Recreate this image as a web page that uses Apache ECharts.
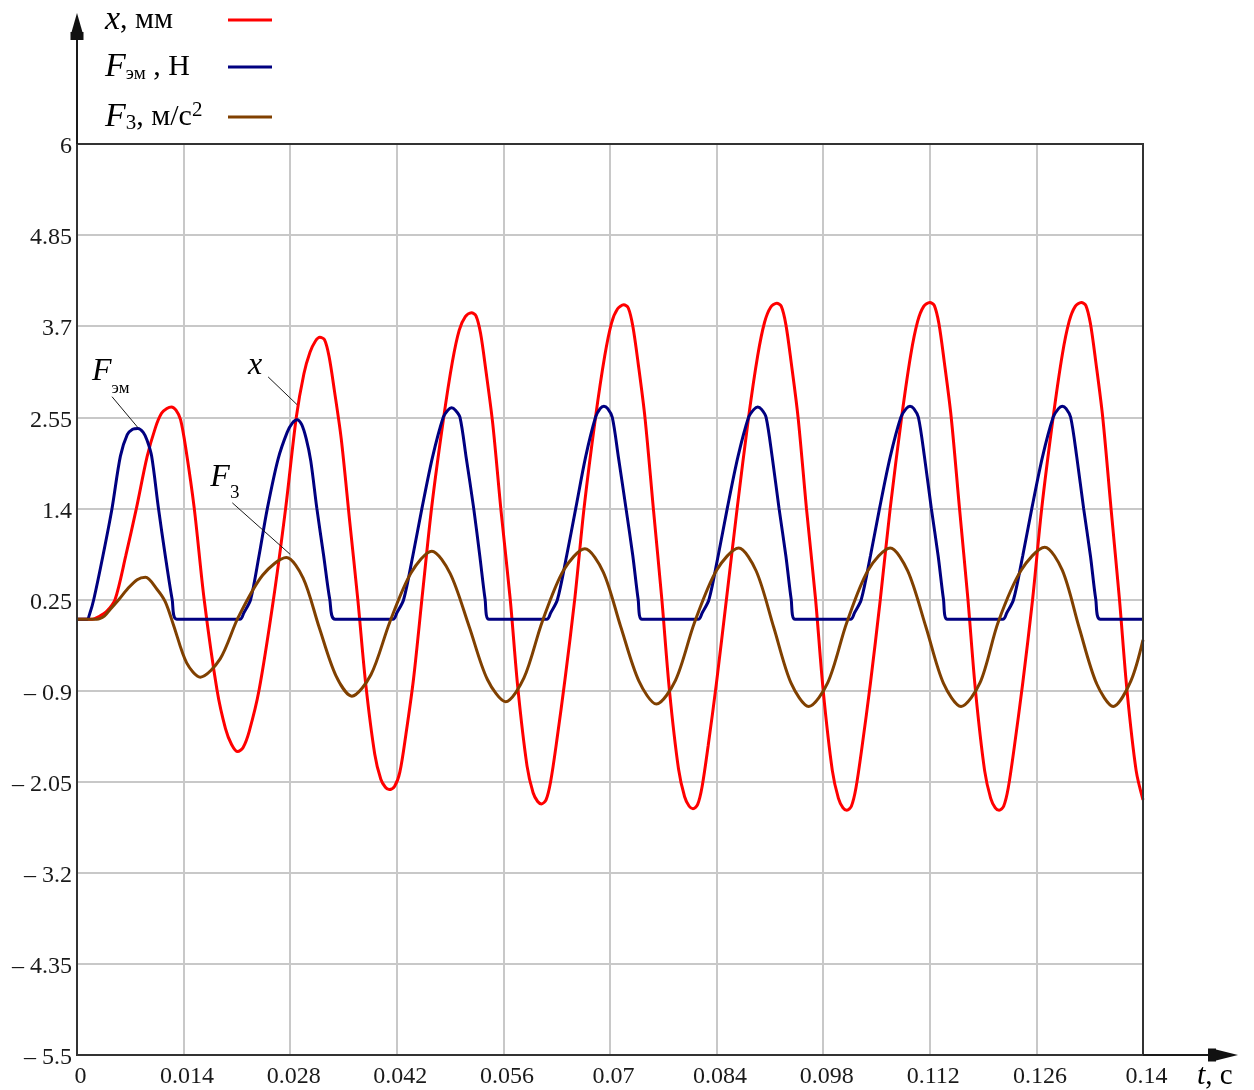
<!DOCTYPE html>
<html>
<head>
<meta charset="utf-8">
<script src="https://cdn.jsdelivr.net/npm/echarts@6/dist/echarts.min.js"></script>
<style>
  html, body { margin: 0; padding: 0; background: #ffffff; }
  #chart { width: 1254px; height: 1090px; }
</style>
</head>
<body>
<div id="chart"></div>
<script>
// Axis ticks
const xTickLabels = ['0', '0.014', '0.028', '0.042', '0.056', '0.07', '0.084', '0.098', '0.112', '0.126', '0.14'];
const yTickValues = [-5.5, -4.35, -3.2, -2.05, -0.9, 0.25, 1.4, 2.55, 3.7, 4.85, 6];
const yTickLabels = ['\u2013 5.5', '\u2013 4.35', '\u2013 3.2', '\u2013 2.05', '\u2013 0.9', '0.25', '1.4', '2.55', '3.7', '4.85', '6'];

// Displacement x, mm — [t (s), value]
const displacement = [
  [0, 0], [0.0020, 0], [0.0028, 0.03], [0.0039, 0.1], [0.0050, 0.25], [0.0064, 0.8], [0.0078, 1.4],
  [0.0092, 2.05], [0.0103, 2.42], [0.0111, 2.6], [0.0118, 2.66], [0.0124, 2.68],
  [0.0130, 2.64], [0.0136, 2.52], [0.0143, 2.15], [0.0154, 1.4], [0.0167, 0.25], [0.0184, -0.9],
  [0.0195, -1.38], [0.0203, -1.58], [0.0211, -1.67],
  [0.0218, -1.62], [0.0226, -1.42], [0.0239, -0.9], [0.0258, 0.25], [0.0274, 1.4], [0.0288, 2.55],
  [0.0298, 3.1], [0.0306, 3.37], [0.0313, 3.51], [0.0319, 3.56],
  [0.0325, 3.53], [0.0331, 3.32], [0.0338, 2.89], [0.0347, 2.28], [0.0358, 1.25], [0.0369, 0.23],
  [0.0379, -0.80], [0.0391, -1.70], [0.0399, -2.02], [0.0405, -2.12], [0.0410, -2.15],
  [0.0417, -2.11], [0.0424, -1.93], [0.0432, -1.45], [0.0442, -0.75], [0.0454, 0.35], [0.0466, 1.43],
  [0.0481, 2.51], [0.0493, 3.25], [0.0502, 3.65], [0.0510, 3.82], [0.0518, 3.87],
  [0.0524, 3.83], [0.0530, 3.61], [0.0537, 3.14], [0.0546, 2.47], [0.0557, 1.36], [0.0569, 0.25],
  [0.0579, -0.87], [0.0591, -1.85], [0.0599, -2.19], [0.0605, -2.30], [0.0610, -2.33],
  [0.0616, -2.28], [0.0622, -2.05], [0.0630, -1.54], [0.0641, -0.75], [0.0654, 0.28], [0.0666, 1.41],
  [0.0681, 2.55], [0.0693, 3.32], [0.0702, 3.74], [0.0710, 3.92], [0.0718, 3.97],
  [0.0724, 3.93], [0.0730, 3.70], [0.0737, 3.23], [0.0746, 2.54], [0.0757, 1.39], [0.0768, 0.26],
  [0.0778, -0.89], [0.0790, -1.89], [0.0798, -2.24], [0.0804, -2.36], [0.0809, -2.39],
  [0.0815, -2.34], [0.0821, -2.11], [0.0829, -1.59], [0.0840, -0.79], [0.0853, 0.26], [0.0867, 1.40],
  [0.0882, 2.55], [0.0894, 3.33], [0.0903, 3.75], [0.0911, 3.94], [0.0919, 3.99],
  [0.0925, 3.95], [0.0931, 3.72], [0.0938, 3.24], [0.0947, 2.55], [0.0958, 1.40], [0.0970, 0.25],
  [0.0980, -0.90], [0.0992, -1.91], [0.1000, -2.26], [0.1006, -2.38], [0.1011, -2.41],
  [0.1017, -2.36], [0.1023, -2.13], [0.1031, -1.61], [0.1042, -0.81], [0.1055, 0.25], [0.1068, 1.40],
  [0.1083, 2.55], [0.1095, 3.34], [0.1104, 3.76], [0.1112, 3.95], [0.1120, 4.0],
  [0.1126, 3.96], [0.1132, 3.73], [0.1139, 3.25], [0.1148, 2.56], [0.1159, 1.40], [0.1170, 0.26],
  [0.1180, -0.90], [0.1192, -1.91], [0.1200, -2.26], [0.1206, -2.38], [0.1211, -2.41],
  [0.1217, -2.36], [0.1223, -2.13], [0.1231, -1.61], [0.1242, -0.81], [0.1255, 0.25], [0.1267, 1.40],
  [0.1282, 2.55], [0.1294, 3.34], [0.1303, 3.76], [0.1311, 3.95], [0.1319, 4.0],
  [0.1325, 3.96], [0.1331, 3.73], [0.1338, 3.25], [0.1347, 2.56], [0.1358, 1.40], [0.1369, 0.26],
  [0.1379, -0.90], [0.1391, -1.91], [0.1400, -2.28]
];

// Electromagnetic force Fэм, N — [t (s), value]
const forceEm = [
  [0, 0], [0.0013, 0], [0.0017, 0.08], [0.0022, 0.25], [0.0034, 0.8], [0.0046, 1.4], [0.0057, 2.06],
  [0.0066, 2.33], [0.0073, 2.40], [0.0080, 2.41], [0.0087, 2.36], [0.0092, 2.26], [0.0098, 2.06],
  [0.0107, 1.4], [0.0116, 0.8], [0.0125, 0.25], [0.0131, 0],
  [0.0214, 0], [0.0219, 0.08], [0.0228, 0.25], [0.0239, 0.8], [0.0250, 1.4], [0.0264, 2.02],
  [0.0276, 2.36], [0.0283, 2.48], [0.0289, 2.52], [0.0295, 2.46], [0.0301, 2.28], [0.0307, 2.0],
  [0.0315, 1.4], [0.0324, 0.8], [0.0332, 0.25], [0.0339, 0],
  [0.0415, 0], [0.0420, 0.08], [0.0429, 0.25], [0.0441, 0.8], [0.0453, 1.4], [0.0467, 2.05],
  [0.0481, 2.55], [0.0487, 2.64], [0.0492, 2.67], [0.0497, 2.64], [0.0503, 2.55], [0.0511, 2.05],
  [0.0521, 1.4], [0.0529, 0.8], [0.0536, 0.25], [0.0541, 0],
  [0.0617, 0], [0.0622, 0.08], [0.0631, 0.25], [0.0643, 0.8], [0.0655, 1.4], [0.0668, 2.05],
  [0.0681, 2.55], [0.0687, 2.66], [0.0692, 2.69], [0.0697, 2.66], [0.0703, 2.55], [0.0711, 2.05],
  [0.0721, 1.4], [0.0730, 0.8], [0.0737, 0.25], [0.0742, 0],
  [0.0816, 0], [0.0821, 0.08], [0.0830, 0.25], [0.0842, 0.8], [0.0854, 1.4], [0.0868, 2.05],
  [0.0882, 2.55], [0.0889, 2.65], [0.0894, 2.68], [0.0899, 2.65], [0.0905, 2.55], [0.0913, 2.05],
  [0.0922, 1.4], [0.0931, 0.8], [0.0938, 0.25], [0.0943, 0],
  [0.1016, 0], [0.1021, 0.08], [0.1030, 0.25], [0.1042, 0.8], [0.1054, 1.4], [0.1068, 2.05],
  [0.1082, 2.55], [0.1089, 2.66], [0.1094, 2.69], [0.1099, 2.66], [0.1105, 2.55], [0.1113, 2.05],
  [0.1122, 1.4], [0.1131, 0.8], [0.1138, 0.25], [0.1143, 0],
  [0.1216, 0], [0.1221, 0.08], [0.1230, 0.25], [0.1242, 0.8], [0.1254, 1.4], [0.1268, 2.05],
  [0.1282, 2.55], [0.1289, 2.66], [0.1294, 2.69], [0.1299, 2.66], [0.1305, 2.55], [0.1313, 2.05],
  [0.1322, 1.4], [0.1331, 0.8], [0.1338, 0.25], [0.1344, 0], [0.1400, 0]
];

// F3, m/s^2 — [t (s), value]
const force3 = [
  [0, 0], [0.0026, 0], [0.0036, 0.04], [0.0044, 0.13], [0.0055, 0.25], [0.0066, 0.38], [0.0079, 0.5],
  [0.0090, 0.53], [0.0105, 0.38], [0.0116, 0.22], [0.0127, -0.08], [0.0144, -0.55], [0.0162, -0.73],
  [0.0188, -0.50], [0.0212, 0.03], [0.0244, 0.56], [0.0275, 0.78],
  [0.0297, 0.52], [0.0318, -0.10], [0.0340, -0.71], [0.0361, -0.97],
  [0.0386, -0.70], [0.0411, -0.03], [0.0439, 0.59], [0.0466, 0.86],
  [0.0490, 0.58], [0.0515, -0.09], [0.0539, -0.76], [0.0563, -1.04],
  [0.0587, -0.74], [0.0611, -0.03], [0.0639, 0.62], [0.0667, 0.89],
  [0.0691, 0.60], [0.0714, -0.09], [0.0738, -0.78], [0.0761, -1.07],
  [0.0786, -0.77], [0.0811, -0.04], [0.0840, 0.62], [0.0869, 0.90],
  [0.0892, 0.61], [0.0915, -0.10], [0.0938, -0.81], [0.0961, -1.10],
  [0.0986, -0.80], [0.1011, -0.04], [0.1039, 0.62], [0.1068, 0.90],
  [0.1091, 0.61], [0.1115, -0.10], [0.1138, -0.81], [0.1161, -1.10],
  [0.1186, -0.80], [0.1210, -0.03], [0.1240, 0.62], [0.1271, 0.91],
  [0.1294, 0.62], [0.1316, -0.10], [0.1339, -0.81], [0.1361, -1.10],
  [0.1384, -0.78], [0.1400, -0.26]
];

// Curve callouts: leader start (next to the label) and leader end, in data units
const calloutFem = { from: [0.0046, 2.81], to: [0.0080, 2.42] };
const calloutX = { from: [0.0251, 3.06], to: [0.0289, 2.71] };
const calloutF3 = { from: [0.0204, 1.47], to: [0.0280, 0.82] };

const SERIF = '"Liberation Serif", "DejaVu Serif", serif';
const TEXT_COLOR = '#1a1a1a';
const RED = '#ff0000', NAVY = '#000080', BROWN = '#804000';

// Rich text styles for the key (rows 34 px high)
const keyRich = {
  v: { fontFamily: SERIF, fontStyle: 'italic', fontSize: 34, lineHeight: 34, color: TEXT_COLOR },
  u: { fontFamily: SERIF, fontSize: 30, lineHeight: 34, color: TEXT_COLOR },
  subEm: { fontFamily: SERIF, fontSize: 19, lineHeight: 7, verticalAlign: 'bottom', color: TEXT_COLOR },
  sub3: { fontFamily: SERIF, fontSize: 21, lineHeight: 13, verticalAlign: 'bottom', color: TEXT_COLOR },
  sup: { fontFamily: SERIF, fontSize: 21, lineHeight: 18, verticalAlign: 'top', color: TEXT_COLOR }
};
// Rich text styles for the curve callouts (taller rows so subscripts sit lower)
const calloutRich = {
  v: { fontFamily: SERIF, fontStyle: 'italic', fontSize: 32, lineHeight: 50, color: TEXT_COLOR },
  subEm: { fontFamily: SERIF, fontSize: 17, lineHeight: 24, verticalAlign: 'bottom', color: TEXT_COLOR },
  sub3: { fontFamily: SERIF, fontSize: 19, lineHeight: 14, verticalAlign: 'bottom', color: TEXT_COLOR }
};

// Key rows: label, colour
const keyRows = [
  { text: '{v|x}{u|, мм}', color: RED },
  { text: '{v|F}{subEm|эм}{u| , Н}', color: NAVY },
  { text: '{v|F}{sub3|3}{u|, м/с}{sup|2}', color: BROWN }
];

const chart = echarts.init(document.getElementById('chart'), null, { renderer: 'canvas' });

const lineSeries = (name, data, color) => ({
  name: name,
  type: 'line',
  data: data,
  showSymbol: false,
  symbol: 'none',
  smooth: 0.3,
  lineStyle: { color: color, width: 3 },
  itemStyle: { color: color },
  animation: false
});

chart.setOption({
  backgroundColor: '#ffffff',
  animation: false,
  grid: { left: 77, right: 111, top: 144, bottom: 35 },
  xAxis: {
    type: 'value', min: 0, max: 0.14, interval: 0.014,
    axisLine: { show: true, onZero: false, lineStyle: { color: '#333333', width: 2 } },
    axisTick: { show: false },
    splitLine: { show: true, lineStyle: { color: '#c8c8c8', width: 2 } },
    axisLabel: {
      formatter: (v, i) => xTickLabels[i],
      fontFamily: SERIF, fontSize: 24, color: TEXT_COLOR, margin: 10,
      padding: [0, 0, 0, 7]
    }
  },
  yAxis: {
    type: 'value', min: -5.5, max: 6, interval: 1.15,
    axisLine: { show: true, onZero: false, lineStyle: { color: '#333333', width: 2 } },
    axisTick: { show: false },
    splitLine: { show: true, lineStyle: { color: '#c8c8c8', width: 2 } },
    axisLabel: {
      formatter: v => {
        let best = 0;
        yTickValues.forEach((t, i) => { if (Math.abs(t - v) < Math.abs(yTickValues[best] - v)) best = i; });
        return '{t|' + yTickLabels[best] + '}';
      },
      margin: 5,
      rich: { t: { fontFamily: SERIF, fontSize: 24, color: TEXT_COLOR, padding: [6, 0, 0, 0] } }
    }
  },
  series: [
    lineSeries('x', displacement, RED),
    lineSeries('Fэм', forceEm, NAVY),
    lineSeries('F3', force3, BROWN)
  ]
});

// Frame, axis extensions with arrowheads, axis title, key and curve callouts
const px = p => chart.convertToPixel({ gridIndex: 0 }, p);
const origin = px([0, -5.5]);
const corner = px([0.14, 6]);
const ox = origin[0], oy = origin[1];
const axisStroke = { stroke: '#1a1a1a', lineWidth: 2 };
const leader = { stroke: '#1a1a1a', lineWidth: 1 };

function callout(c, text, dx, dy) {
  const a = px(c.from), b = px(c.to);
  return [
    { type: 'line', shape: { x1: a[0], y1: a[1], x2: b[0], y2: b[1] }, style: leader, z: 100 },
    { type: 'text', x: a[0] + dx, y: a[1] + dy, z: 100,
      style: { text: text, rich: calloutRich, align: 'left', verticalAlign: 'middle' } }
  ];
}

const keyLeft = 105, keySwatchLeft = 228, keySwatchWidth = 44;
const keyRowY = [20, 67, 117];
const keyGraphics = [];
keyRows.forEach((row, i) => {
  keyGraphics.push({ type: 'text', x: keyLeft, y: keyRowY[i], z: 100,
    style: { text: row.text, rich: keyRich, align: 'left', verticalAlign: 'middle' } });
  keyGraphics.push({ type: 'line', z: 100,
    shape: { x1: keySwatchLeft, y1: keyRowY[i], x2: keySwatchLeft + keySwatchWidth, y2: keyRowY[i] },
    style: { stroke: row.color, lineWidth: 3 } });
});

const graphics = [
  // plot frame drawn above the grid lines
  { type: 'rect', z: 40, shape: { x: ox, y: corner[1], width: corner[0] - ox, height: oy - corner[1] },
    style: { fill: null, stroke: '#333333', lineWidth: 2 } },
  // vertical axis extension and arrow
  { type: 'line', shape: { x1: ox, y1: corner[1], x2: ox, y2: 36 }, style: axisStroke, z: 50 },
  { type: 'polygon', shape: { points: [[ox, 13], [ox - 6, 34], [ox + 6, 34]] }, style: { fill: '#111111' }, z: 50 },
  { type: 'rect', shape: { x: ox - 6.5, y: 32, width: 13, height: 8 }, style: { fill: '#111111' }, z: 50 },
  // horizontal axis extension and arrow
  { type: 'line', shape: { x1: corner[0], y1: oy, x2: 1215, y2: oy }, style: axisStroke, z: 50 },
  { type: 'rect', shape: { x: 1208, y: oy - 6.5, width: 8, height: 13 }, style: { fill: '#111111' }, z: 50 },
  { type: 'polygon', shape: { points: [[1238, oy], [1214, oy - 6], [1214, oy + 6]] }, style: { fill: '#111111' }, z: 50 },
  // horizontal axis title
  { type: 'text', x: corner[0] + 54, y: oy + 21, z: 50,
    style: { text: '{v|t}{u|, с}', rich: {
      v: { fontFamily: SERIF, fontStyle: 'italic', fontSize: 30, color: TEXT_COLOR },
      u: { fontFamily: SERIF, fontSize: 29, color: TEXT_COLOR } }, align: 'left', verticalAlign: 'middle' } }
]
  .concat(keyGraphics)
  .concat(callout(calloutFem, '{v|F}{subEm|эм}', -20, -25))
  .concat(callout(calloutX, '{v|x}', -20, -11))
  .concat(callout(calloutF3, '{v|F}{sub3|3}', -22, -25));

chart.setOption({ graphic: graphics });
</script>
</body>
</html>
